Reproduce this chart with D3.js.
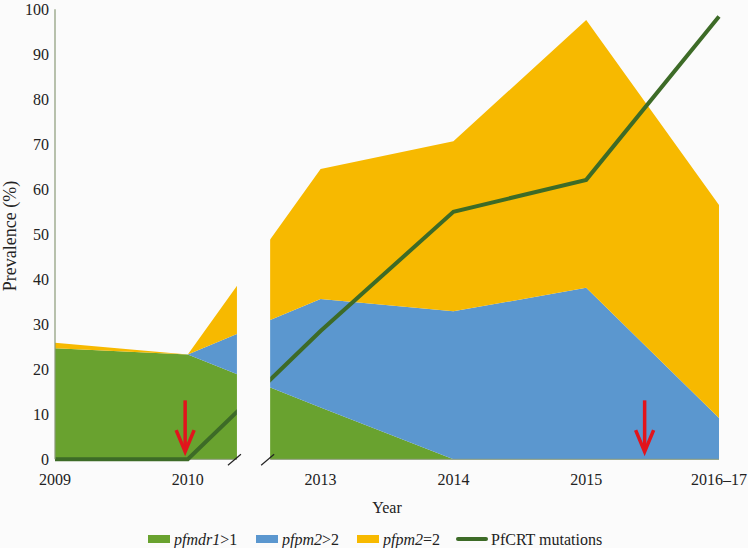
<!DOCTYPE html>
<html>
<head>
<meta charset="utf-8">
<script src="https://cdn.jsdelivr.net/npm/d3@7"></script>
<style>
  body { margin: 0; background: #fbfbfb; }
  svg { display: block; }
  svg text { font-family: "Liberation Serif", "Times New Roman", Times, "DejaVu Serif", serif; }
</style>
</head>
<body>
<div id="chart"></div>
<script>
var years = ["2009", "2010", "2013", "2014", "2015", "2016\u201317"];
var pfmdr1 = [24.7, 23.3, 11.5, 0, 0, 0];
var pfpm2Gt2 = [0, 0, 24.1, 32.9, 38.1, 9.2];
var pfpm2Eq2 = [1.2, 0, 28.9, 37.8, 59.5, 47.3];
var pfcrt = [0, 0, 28.5, 55, 62.1, 98.4];
var yTicks = [0, 10, 20, 30, 40, 50, 60, 70, 80, 90, 100];
var arrowsAt = [0.98, 4.44];      // positions on the year index
var breakAt = [1.37, 1.62];       // axis break between 2010 and 2013

var W = 748, H = 548;
var colors = { pfmdr1: "#69a22f", gt2: "#5b97cf", eq2: "#f7b900", line: "#3d6b27", arrow: "#e2141c" };
var bg = "#fbfbfb";
var serif = "'Liberation Serif', 'Times New Roman', Times, 'DejaVu Serif', serif";

var svg = d3.select("#chart").append("svg").attr("width", W).attr("height", H)
	.attr("font-family", serif);

var x = d3.scaleLinear().domain([0, years.length - 1]).range([55, 719]);
var y = d3.scaleLinear().domain([0, 100]).range([459.3, 9.3]);

var rows = years.map(function(d, i) {
	return { i: i, pfmdr1: pfmdr1[i], gt2: pfpm2Gt2[i], eq2: pfpm2Eq2[i] };
});
var stack = d3.stack().keys(["pfmdr1", "gt2", "eq2"]);
var series = stack(rows);

var area = d3.area()
	.x(function(d) { return x(d.data.i); })
	.y0(function(d) { return y(d[0]); })
	.y1(function(d) { return y(d[1]); });

svg.append("g").selectAll("path")
	.data(series)
	.join("path")
	.attr("fill", function(d) { return colors[d.key]; })
	.attr("d", area);

// x axis line
svg.append("line")
	.attr("x1", x(0)).attr("x2", x(years.length - 1))
	.attr("y1", y(0)).attr("y2", y(0))
	.attr("stroke", "#8a9a78").attr("stroke-width", 1);

var line = d3.line()
	.x(function(d, i) { return x(i); })
	.y(function(d) { return y(d); });

svg.append("path")
	.datum(pfcrt)
	.attr("fill", "none")
	.attr("stroke", colors.line)
	.attr("stroke-width", 4)
	.attr("stroke-linejoin", "miter")
	.attr("d", line);

// y axis line
svg.append("line")
	.attr("x1", x(0)).attr("x2", x(0))
	.attr("y1", y(0)).attr("y2", y(100))
	.attr("stroke", "#8a9a78").attr("stroke-width", 1.2);

// break: blank out the gap
svg.append("rect")
	.attr("x", x(breakAt[0])).attr("width", x(breakAt[1]) - x(breakAt[0]))
	.attr("y", 0).attr("height", y(0) + 2)
	.attr("fill", bg);

breakAt.forEach(function(b) {
	var cx = x(b) - 1;
	svg.append("line")
		.attr("x1", cx - 8).attr("y1", y(0) + 6)
		.attr("x2", cx + 5).attr("y2", y(0) - 5)
		.attr("stroke", "#222").attr("stroke-width", 1.2);
});

// arrows
arrowsAt.forEach(function(a) {
	var ax = x(a);
	svg.append("line")
		.attr("x1", ax).attr("x2", ax)
		.attr("y1", y(13.1)).attr("y2", y(2.5))
		.attr("stroke", colors.arrow).attr("stroke-width", 3.5);
	svg.append("path")
		.attr("d", "M" + (ax - 9) + "," + y(6.5) + " L" + ax + "," + y(1.7) + " L" + (ax + 9) + "," + y(6.5))
		.attr("fill", "none")
		.attr("stroke", colors.arrow).attr("stroke-width", 3.5)
		.attr("stroke-linejoin", "miter");
});

// y tick labels
svg.append("g").selectAll("text")
	.data(yTicks)
	.join("text")
	.attr("x", 49).attr("y", function(d) { return y(d); })
	.attr("dy", "0.35em")
	.attr("text-anchor", "end")
	.attr("font-size", 16)
	.attr("fill", "#222")
	.text(function(d) { return d; });

// x tick labels
svg.append("g").selectAll("text")
	.data(years)
	.join("text")
	.attr("x", function(d, i) { return x(i); })
	.attr("y", 479)
	.attr("dy", "0.35em")
	.attr("text-anchor", "middle")
	.attr("font-size", 16)
	.attr("fill", "#222")
	.text(function(d) { return d; });

svg.append("text")
	.attr("x", 387).attr("y", 507).attr("dy", "0.35em")
	.attr("text-anchor", "middle").attr("font-size", 16).attr("fill", "#222")
	.text("Year");

svg.append("text")
	.attr("transform", "translate(10,236) rotate(-90)")
	.attr("dy", "0.35em")
	.attr("text-anchor", "middle").attr("font-size", 18).attr("fill", "#222")
	.text("Prevalence (%)");

// legend
var legend = [
	{ color: colors.pfmdr1, it: "pfmdr1", rest: ">1", x: 148, type: "box" },
	{ color: colors.gt2, it: "pfpm2", rest: ">2", x: 256, type: "box" },
	{ color: colors.eq2, it: "pfpm2", rest: "=2", x: 357, type: "box" },
	{ color: colors.line, it: "", rest: "PfCRT mutations", x: 458, type: "line" }
];
var lg = svg.append("g");
legend.forEach(function(l) {
	if (l.type === "box") {
		lg.append("rect").attr("x", l.x).attr("y", 535).attr("width", 22).attr("height", 8).attr("fill", l.color);
	} else {
		lg.append("line").attr("x1", l.x).attr("x2", l.x + 28).attr("y1", 539).attr("y2", 539)
			.attr("stroke", l.color).attr("stroke-width", 4).attr("stroke-linecap", "round");
	}
	var t = lg.append("text")
		.attr("x", l.x + (l.type === "box" ? 26 : 33)).attr("y", 539).attr("dy", "0.35em")
		.attr("font-size", 16).attr("fill", "#222");
	if (l.it) t.append("tspan").attr("font-style", "italic").text(l.it);
	t.append("tspan").text(l.rest);
});
</script>
</body>
</html>
